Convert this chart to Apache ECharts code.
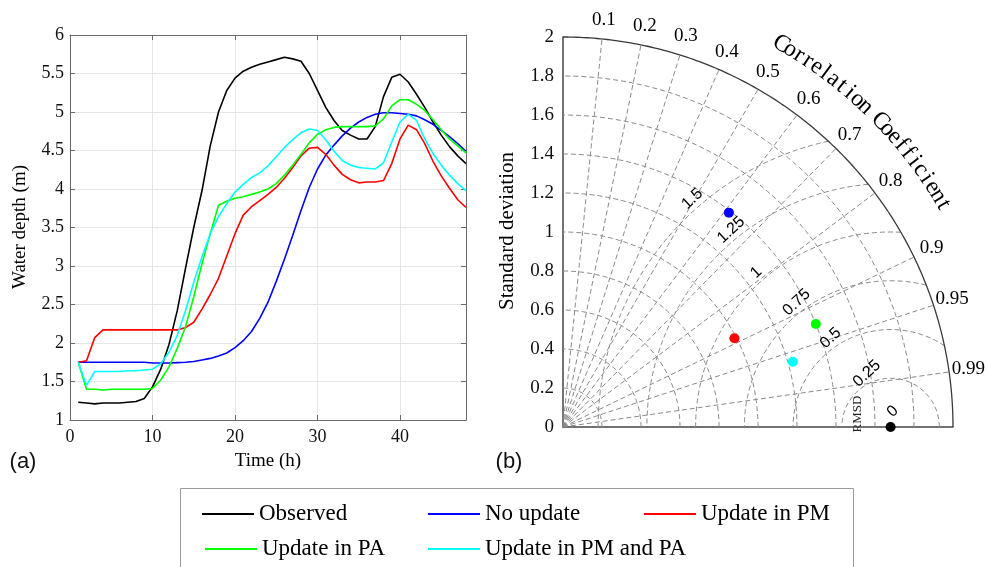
<!DOCTYPE html>
<html>
<head>
<meta charset="utf-8">
<script src="https://cdn.jsdelivr.net/npm/echarts@6/dist/echarts.min.js"></script>
<style>
  html, body { margin: 0; padding: 0; background: #ffffff; }
  #chart { width: 987px; height: 567px; }
</style>
</head>
<body>
<div id="chart"></div>
<script>
// ---- (a) water depth time series, hourly ----
const hours = [1, 2, 3, 4, 5, 6, 7, 8, 9, 10, 11, 12, 13, 14, 15, 16, 17, 18, 19, 20, 21, 22, 23, 24,
               25, 26, 27, 28, 29, 30, 31, 32, 33, 34, 35, 36, 37, 38, 39, 40, 41, 42, 43, 44, 45, 46, 47, 48];

const observed = [1.23, 1.22, 1.21, 1.22, 1.22, 1.22, 1.23, 1.24, 1.28, 1.43, 1.66, 1.98, 2.42, 2.97, 3.50, 3.98,
                  4.56, 5.00, 5.28, 5.44, 5.53, 5.58, 5.62, 5.65, 5.68, 5.71, 5.69, 5.66, 5.50, 5.28, 5.06, 4.89,
                  4.76, 4.70, 4.65, 4.65, 4.81, 5.20, 5.45, 5.49, 5.39, 5.23, 5.06, 4.87, 4.70, 4.55, 4.43, 4.33];

const noUpdate = [1.75, 1.75, 1.75, 1.75, 1.75, 1.75, 1.75, 1.75, 1.75, 1.74, 1.74, 1.74, 1.745, 1.75, 1.76, 1.78,
                  1.80, 1.83, 1.87, 1.94, 2.03, 2.15, 2.32, 2.53, 2.80, 3.09, 3.40, 3.72, 4.02, 4.26, 4.44, 4.57,
                  4.69, 4.79, 4.87, 4.93, 4.97, 4.99, 4.99, 4.98, 4.97, 4.95, 4.90, 4.84, 4.76, 4.68, 4.59, 4.49];

const updatePM = [1.75, 1.77, 2.07, 2.17, 2.17, 2.17, 2.17, 2.17, 2.17, 2.17, 2.17, 2.17, 2.17, 2.20, 2.27, 2.44,
                  2.63, 2.84, 3.13, 3.42, 3.66, 3.77, 3.85, 3.93, 4.02, 4.14, 4.28, 4.43, 4.53, 4.54, 4.45, 4.31,
                  4.19, 4.12, 4.08, 4.09, 4.09, 4.11, 4.33, 4.65, 4.83, 4.77, 4.59, 4.36, 4.17, 4.01, 3.86, 3.76];

const updatePA = [1.75, 1.40, 1.40, 1.39, 1.40, 1.40, 1.40, 1.40, 1.40, 1.41, 1.52, 1.69, 1.93, 2.21, 2.60, 3.03,
                  3.42, 3.79, 3.84, 3.88, 3.90, 3.93, 3.96, 4.00, 4.07, 4.18, 4.31, 4.45, 4.60, 4.71, 4.77, 4.80,
                  4.81, 4.81, 4.81, 4.81, 4.82, 4.91, 5.08, 5.16, 5.16, 5.10, 5.02, 4.90, 4.77, 4.65, 4.56, 4.47];

const updatePMPA = [1.75, 1.45, 1.63, 1.63, 1.63, 1.63, 1.64, 1.64, 1.65, 1.66, 1.73, 1.88, 2.10, 2.42, 2.79, 3.12,
                    3.42, 3.64, 3.81, 3.96, 4.06, 4.15, 4.21, 4.30, 4.42, 4.54, 4.64, 4.73, 4.78, 4.76, 4.64, 4.49,
                    4.37, 4.31, 4.28, 4.27, 4.26, 4.34, 4.61, 4.87, 4.97, 4.89, 4.65, 4.46, 4.31, 4.18, 4.07, 3.98];

const seriesNames = ['Observed', 'No update', 'Update in PM', 'Update in PA', 'Update in PM and PA'];
const seriesColors = ['#000000', '#0000ff', '#ff0000', '#00ff00', '#00ffff'];
const seriesValues = [observed, noUpdate, updatePM, updatePA, updatePMPA];

// ---- (b) Taylor diagram statistics ----
const taylorStd = [1.68, 1.39, 0.99, 1.40, 1.225];
const taylorCorr = [1.0, 0.612, 0.888, 0.926, 0.962];

const corrTicks = [0.1, 0.2, 0.3, 0.4, 0.5, 0.6, 0.7, 0.8, 0.9, 0.95, 0.99];
const stdLevels = [0.2, 0.4, 0.6, 0.8, 1.0, 1.2, 1.4, 1.6, 1.8];
const rmsdLevels = [0.25, 0.5, 0.75, 1.0, 1.25, 1.5];
const rmsdLabelValues = [0, 0.25, 0.5, 0.75, 1, 1.25, 1.5];

// ---- layout constants ----
const STD_MAX = 2;
const SERIF = '"Liberation Serif", "Times New Roman", serif';
const SANS = '"Liberation Sans", Arial, sans-serif';
const DASH = { color: '#8a8a8a', width: 1, type: [5, 3] };
const rmsdLabelAngle = [82, 114, 124, 127, 131, 129, 131];   // direction of each label from the reference point (deg)

const deg = Math.PI / 180;
const refStd = taylorStd[0];

function polarPoint(r, thetaDeg) {
  return [r * Math.cos(thetaDeg * deg), r * Math.sin(thetaDeg * deg)];
}

function guideSeries(points, lineStyle) {
  return {
    type: 'line', xAxisIndex: 2, yAxisIndex: 2, data: points,
    showSymbol: false, symbol: 'none', silent: true, clip: false,
    lineStyle: lineStyle, z: 1, animation: false
  };
}

const taylorGuides = [];

// standard deviation arcs
stdLevels.forEach(function (r) {
  const pts = [];
  for (let a = 0; a <= 90; a += 1) pts.push(polarPoint(r, a));
  taylorGuides.push(guideSeries(pts, DASH));
});

// correlation rays
corrTicks.forEach(function (c) {
  const t = Math.acos(c) / deg;
  taylorGuides.push(guideSeries([[0, 0], polarPoint(STD_MAX, t)], DASH));
});

// centred RMS difference arcs, clipped to the outer boundary
rmsdLevels.forEach(function (d) {
  const cosStart = (STD_MAX * STD_MAX - refStd * refStd - d * d) / (2 * refStd * d);
  const start = cosStart >= 1 ? 0 : Math.acos(cosStart) / deg;
  const pts = [];
  const n = 120;
  for (let i = 0; i <= n; i++) {
    const phi = (start + (180 - start) * i / n) * deg;
    const x = refStd + d * Math.cos(phi);
    const y = d * Math.sin(phi);
    if (x >= 0) pts.push([x, y]);
  }
  taylorGuides.push(guideSeries(pts, DASH));
});

// outer boundary
(function () {
  const pts = [];
  for (let a = 0; a <= 90; a += 0.5) pts.push(polarPoint(STD_MAX, a));
  taylorGuides.push(guideSeries(pts, { color: '#3a3a3a', width: 1.3, type: 'solid' }));
})();

function textSeries(items, font, size, color) {
  return {
    type: 'scatter', xAxisIndex: 2, yAxisIndex: 2, data: items,
    symbolSize: 1, itemStyle: { color: 'rgba(0,0,0,0)', opacity: 1 }, silent: true, clip: false, z: 5,
    label: { show: true, position: 'inside', formatter: '{b}', color: color || '#000', opacity: 1,
             fontFamily: font, fontSize: size, textBorderWidth: 0, textBorderColor: 'transparent' },
    animation: false
  };
}

// correlation tick labels
const corrLabelItems = corrTicks.map(function (c) {
  return { name: String(c), value: polarPoint(2.1, Math.acos(c) / deg) };
});

// RMSD labels
const rmsdLabelItems = rmsdLabelValues.map(function (v, i) {
  const r = v === 0 ? 0.08 : v + 0.05;
  const p = polarPoint(r, rmsdLabelAngle[i]);
  return { name: String(v), value: [refStd + p[0], p[1]], label: { rotate: 43 } };
});

// curved axis title
const titleText = 'Correlation Coefficient';
const titleItems = [];
for (let i = 0; i < titleText.length; i++) {
  const ch = titleText[i];
  if (ch === ' ') continue;
  const theta = 60.3 - i * (30 / 22);
  titleItems.push({ name: ch, value: polarPoint(2.26, theta), label: { rotate: theta - 90 } });
}

// Taylor points
const taylorPointSeries = taylorStd.map(function (s, i) {
  const c = taylorCorr[i];
  return {
    type: 'scatter', name: seriesNames[i] + ' (stats)', xAxisIndex: 2, yAxisIndex: 2,
    data: [[s * c, s * Math.sqrt(Math.max(0, 1 - c * c))]],
    symbol: 'circle', symbolSize: 10, clip: false, z: 10,
    itemStyle: { color: seriesColors[i], opacity: 1 }, animation: false
  };
});

// time series lines
const lineSeries = seriesValues.map(function (vals, i) {
  return {
    type: 'line', name: seriesNames[i], xAxisIndex: 0, yAxisIndex: 0,
    data: hours.map(function (h, k) { return [h, vals[k]]; }),
    showSymbol: false, symbol: 'none', smooth: false, clip: true,
    lineStyle: { color: seriesColors[i], width: 1.6 },
    itemStyle: { color: seriesColors[i] }, z: 3, animation: false
  };
});

// legend: two rows, fixed columns
const legendSlots = [
  { name: 'Observed', left: 202, top: 502 },
  { name: 'No update', left: 428, top: 502 },
  { name: 'Update in PM', left: 644, top: 502 },
  { name: 'Update in PA', left: 205, top: 537 },
  { name: 'Update in PM and PA', left: 428, top: 537 }
];
const legends = legendSlots.map(function (s) {
  return {
    data: [s.name], left: s.left, top: s.top, padding: 0,
    icon: 'rect', itemWidth: 52, itemHeight: 2,
    textStyle: { fontFamily: SERIF, fontSize: 23, color: '#000', lineHeight: 24 }
  };
});

const axisColor = '#6a6a6a';
const tickFont = { fontFamily: SERIF, fontSize: 18, color: '#111' };

const option = {
  backgroundColor: '#ffffff',
  animation: false,
  grid: [
    { left: 70, top: 35, right: 521, bottom: 147, containLabel: false },
    { left: 563, top: 37, width: 390, height: 390, containLabel: false }
  ],
  xAxis: [
    { type: 'value', gridIndex: 0, position: 'bottom', min: 0, max: 48, interval: 10,
      axisLine: { show: true, lineStyle: { color: axisColor, width: 1 } },
      axisTick: { show: true, inside: true, length: 5, lineStyle: { color: axisColor } },
      axisLabel: Object.assign({ margin: 8, showMaxLabel: false }, tickFont),
      splitLine: { show: true, lineStyle: { color: '#e6e6e6', width: 1 } } },
    { type: 'value', gridIndex: 0, position: 'top', min: 0, max: 48, interval: 10,
      axisLine: { show: true, onZero: false, lineStyle: { color: axisColor, width: 1 } },
      axisTick: { show: true, inside: true, length: 5, lineStyle: { color: axisColor } },
      axisLabel: { show: false }, splitLine: { show: false } },
    { type: 'value', gridIndex: 1, min: 0, max: STD_MAX,
      axisLine: { show: true, onZero: false, lineStyle: { color: '#444', width: 1.5 } },
      axisTick: { show: false }, axisLabel: { show: false }, splitLine: { show: false } }
  ],
  yAxis: [
    { type: 'value', gridIndex: 0, position: 'left', min: 1, max: 6, interval: 0.5,
      axisLine: { show: true, onZero: false, lineStyle: { color: axisColor, width: 1 } },
      axisTick: { show: true, inside: true, length: 5, lineStyle: { color: axisColor } },
      axisLabel: Object.assign({ margin: 6 }, tickFont),
      splitLine: { show: true, lineStyle: { color: '#e6e6e6', width: 1 } } },
    { type: 'value', gridIndex: 0, position: 'right', min: 1, max: 6, interval: 0.5,
      axisLine: { show: true, onZero: false, lineStyle: { color: axisColor, width: 1 } },
      axisTick: { show: true, inside: true, length: 5, lineStyle: { color: axisColor } },
      axisLabel: { show: false }, splitLine: { show: false } },
    { type: 'value', gridIndex: 1, min: 0, max: STD_MAX, interval: 0.2,
      axisLine: { show: true, onZero: false, lineStyle: { color: '#444', width: 1.5 } },
      axisTick: { show: false },
      axisLabel: { margin: 9, fontFamily: SERIF, fontSize: 19, color: '#111' },
      splitLine: { show: false } }
  ],
  legend: legends,
  series: [].concat(
    taylorGuides,
    lineSeries,
    [textSeries(corrLabelItems, SERIF, 19),
     textSeries(rmsdLabelItems, SANS, 16),
     textSeries(titleItems, SERIF, 24)],
    taylorPointSeries
  ),
  graphic: [
    { type: 'rect', silent: true, shape: { x: 180.5, y: 488.5, width: 673, height: 100 },
      style: { fill: 'none', stroke: '#9a9a9a', lineWidth: 1 }, z: 0 },
    { type: 'text', x: 20, y: 227, rotation: Math.PI / 2, silent: true,
      style: { text: 'Water depth (m)', font: '19px ' + SERIF, fill: '#000',
               textAlign: 'center', textVerticalAlign: 'middle' } },
    { type: 'text', x: 268, y: 461, silent: true,
      style: { text: 'Time (h)', font: '19px ' + SERIF, fill: '#000',
               textAlign: 'center', textVerticalAlign: 'middle' } },
    { type: 'text', x: 507, y: 231, rotation: Math.PI / 2, silent: true,
      style: { text: 'Standard deviation', font: '21px ' + SERIF, fill: '#000',
               textAlign: 'center', textVerticalAlign: 'middle' } },
    { type: 'text', x: 23, y: 462, silent: true,
      style: { text: '(a)', font: '22px ' + SANS, fill: '#111',
               textAlign: 'center', textVerticalAlign: 'middle' } },
    { type: 'text', x: 509, y: 462, silent: true,
      style: { text: '(b)', font: '22px ' + SANS, fill: '#111',
               textAlign: 'center', textVerticalAlign: 'middle' } },
    { type: 'text', x: 858, y: 414, rotation: Math.PI / 2, silent: true,
      style: { text: 'RMSD', font: '13px ' + SERIF, fill: '#222',
               textAlign: 'center', textVerticalAlign: 'middle' } }
  ]
};

const chart = echarts.init(document.getElementById('chart'), null, { renderer: 'canvas' });
chart.setOption(option);
</script>
</body>
</html>
